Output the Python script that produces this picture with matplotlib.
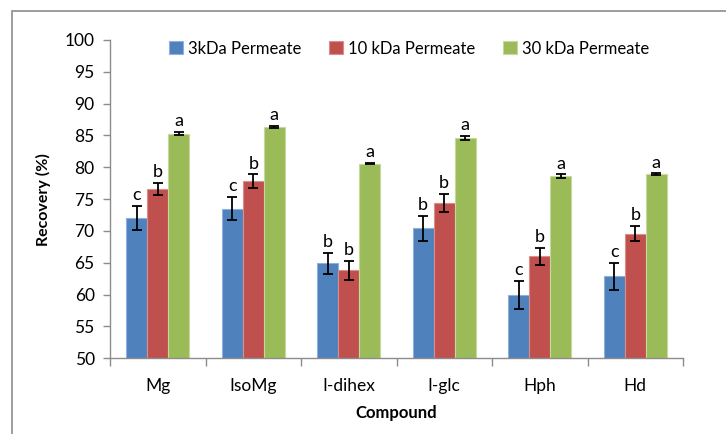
import matplotlib.pyplot as plt
import numpy as np
from matplotlib.patches import Rectangle

plt.rcParams['font.family'] = ['Lato', 'DejaVu Sans']

compounds = ['Mg', 'IsoMg', 'I-dihex', 'I-glc', 'Hph', 'Hd']
series = ['3kDa Permeate', '10 kDa Permeate', '30 kDa Permeate']

perm_3k = [72.0, 73.5, 64.9, 70.4, 60.0, 62.9]
perm_10k = [76.6, 77.8, 63.8, 74.4, 66.0, 69.6]
perm_30k = [85.3, 86.4, 80.6, 84.6, 78.6, 78.9]

err_3k = [1.9, 1.8, 1.6, 2.0, 2.2, 2.1]
err_10k = [1.0, 1.1, 1.45, 1.45, 1.3, 1.15]
err_30k = [0.25, 0.15, 0.15, 0.35, 0.3, 0.15]

letters_3k = ['c', 'c', 'b', 'b', 'c', 'c']
letters_10k = ['b', 'b', 'b', 'b', 'b', 'b']
letters_30k = ['a', 'a', 'a', 'a', 'a', 'a']

colors = ['#4F81BD', '#C0504D', '#9BBB59']
edges = ['#8FB0DA', '#DA8E8C', '#C4DA9A']

fig = plt.figure(figsize=(7.26, 4.34), dpi=100)
ax = fig.add_axes([110 / 726, 1 - 358.3 / 434, 573 / 726, 318.3 / 434])

# chart border (left and top visible)
fig.patches.append(Rectangle((12 / 726, -0.1), 1.1, (434 - 11) / 434 + 0.1,
                             transform=fig.transFigure, fill=False,
                             edgecolor='#8C8C8C', linewidth=1.2))

x = np.arange(len(compounds))
w = 0.22
values = [perm_3k, perm_10k, perm_30k]
errs = [err_3k, err_10k, err_30k]
letters = [letters_3k, letters_10k, letters_30k]

for i in range(3):
    pos = x + (i - 1) * w
    ax.bar(pos, values[i], w, color=colors[i], edgecolor=edges[i],
           linewidth=0.8, label=series[i], zorder=2)
    ax.errorbar(pos, values[i], yerr=errs[i], fmt='none', ecolor='black',
                elinewidth=1.3, capsize=3.5, capthick=1.3, zorder=3)
    for p, v, e, t in zip(pos, values[i], errs[i], letters[i]):
        ax.annotate(t, (p, v + e), xytext=(0, 2), textcoords='offset points',
                    ha='center', va='bottom', fontsize=13)

ax.set_ylim(50, 100)
ax.set_yticks(np.arange(50, 101, 5))
ax.set_xlim(-0.5, len(compounds) - 0.5)
ax.set_xticks(x)
ax.set_xticklabels(compounds)
ax.set_xticks(np.arange(-0.5, len(compounds), 1), minor=True)
ax.tick_params(axis='x', which='major', length=0, pad=14, labelsize=12.5)
ax.tick_params(axis='x', which='minor', length=6, color='#8C8C8C', width=1)
ax.tick_params(axis='y', length=5, color='#8C8C8C', width=1, labelsize=12.5, pad=6)

for s in ['top', 'right']:
    ax.spines[s].set_visible(False)
for s in ['left', 'bottom']:
    ax.spines[s].set_color('#8C8C8C')
    ax.spines[s].set_linewidth(1)

ax.set_ylabel('Recovery (%)', fontsize=11.5, fontweight='bold', labelpad=10)
ax.set_xlabel('Compound', fontsize=12, fontweight='bold', labelpad=8)

ax.legend(loc='center', bbox_to_anchor=(0.522, 0.973), ncol=3, frameon=False,
          fontsize=12, handlelength=0.8, handleheight=0.8, handletextpad=0.3,
          columnspacing=1.7)

plt.savefig('out.png', dpi=100)
